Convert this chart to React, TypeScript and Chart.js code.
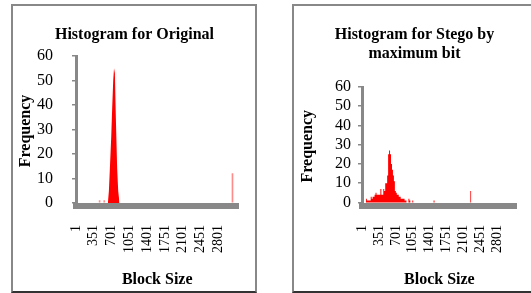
import React, { useEffect, useRef } from 'react';
import { Chart, registerables } from 'chart.js';

Chart.register(...registerables);

// ---- data ----
const xTickValues = [1, 351, 701, 1051, 1401, 1751, 2101, 2451, 2801];
const yTickValues = [0, 10, 20, 30, 40, 50, 60];

// Histogram for Original: dense peak + isolated thin spikes
const originalPeakX = [628, 648, 667, 694, 713, 733, 749, 766, 779, 792, 811, 831, 857];
const originalPeakY = [0, 5, 14, 27, 39, 50, 55, 53, 40, 29, 14, 5, 0];
const originalSpikeX = [465, 556, 3082];
const originalSpikeY = [1, 1, 12];

// Histogram for Stego by maximum bit: bin start -> frequency
const stegoBinX = [80, 100, 180, 200, 220, 260, 280, 300, 380, 400, 440, 460, 480, 520, 540, 560, 580, 600, 620, 640, 660, 680, 700, 720, 760, 800, 880, 920, 960, 980, 1000, 1040, 1060, 1480, 1500, 2240, 2260];
const stegoBinY = [2, 1, 3, 2, 3, 4, 5, 4, 7, 4, 7, 6, 10, 14, 25, 27, 25, 20, 17, 14, 11, 6, 5, 4, 3, 2, 1, 0, 2, 1, 0, 1, 0, 1, 0, 6, 0];

const FONT = "'Liberation Serif', 'Times New Roman', serif";
const GRAY = '#888888';

type Params = {
  title: string | string[];
  datasets: any[];
  yAxisWidth: number;
  rightPad: number;
  xHeight: number;
  yMin: number;
  yTickPad: number;
  yTitlePad: number;
  xTickPad: number;
  titlePadBottom: number;
};

function buildConfig(p: Params): any {
  return {
    type: 'line',
    data: { datasets: p.datasets },
    options: {
      responsive: false,
      animation: false,
      layout: { padding: 0 },
      plugins: {
        legend: { display: false },
        tooltip: { enabled: false },
        title: {
          display: true,
          text: p.title,
          color: '#000',
          font: { family: FONT, size: 16, weight: 'bold', lineHeight: 1.15 },
          padding: { top: 19.8, bottom: p.titlePadBottom },
        },
      },
      scales: {
        x: {
          type: 'linear',
          min: 0,
          max: 3200,
          offset: false,
          grid: { display: true, drawOnChartArea: false, drawTicks: false },
          border: { display: true, width: 6, color: GRAY },
          afterBuildTicks: (s: any) => {
            s.ticks = xTickValues.map((v) => ({ value: v }));
          },
          afterFit: (s: any) => {
            s.height = p.xHeight;
          },
          ticks: {
            autoSkip: false,
            maxRotation: 90,
            minRotation: 90,
            padding: p.xTickPad,
            color: '#000',
            font: { family: FONT, size: 14 },
            callback: (v: any) => String(v),
          },
          title: {
            display: true,
            text: 'Block Size',
            color: '#000',
            font: { family: FONT, size: 16, weight: 'bold' },
            padding: { top: 0, bottom: 1.4 },
          },
        },
        y: {
          type: 'linear',
          position: 'left',
          min: p.yMin,
          max: 60,
          grid: { display: true, drawOnChartArea: false, drawTicks: true, tickLength: 4, color: GRAY, lineWidth: 1.5 },
          border: { display: true, width: 3, color: GRAY },
          afterBuildTicks: (s: any) => {
            s.ticks = yTickValues.map((v) => ({ value: v }));
          },
          afterFit: (s: any) => {
            s.width = p.yAxisWidth;
          },
          ticks: {
            autoSkip: false,
            padding: p.yTickPad,
            color: '#000',
            font: { family: FONT, size: 16 },
            callback: (v: any) => String(v),
          },
          title: {
            display: true,
            text: 'Frequency',
            color: '#000',
            font: { family: FONT, size: 16, weight: 'bold' },
            padding: { top: p.yTitlePad, bottom: 0 },
          },
        },
        yRight: {
          type: 'linear',
          position: 'right',
          display: true,
          grid: { display: false },
          border: { display: false },
          ticks: { display: false },
          afterFit: (s: any) => {
            s.width = p.rightPad;
          },
        },
      },
    },
  };
}

const originalConfig = () =>
  buildConfig({
    title: 'Histogram for Original',
    datasets: [
      {
        type: 'line',
        data: originalPeakX.map((x, i) => ({ x, y: originalPeakY[i] })),
        backgroundColor: '#ff0000',
        borderColor: 'rgba(0,0,0,0)',
        borderWidth: 0,
        pointRadius: 0,
        tension: 0,
        fill: 'origin',
        yAxisID: 'y',
      },
      {
        type: 'bar',
        data: originalSpikeX.map((x, i) => ({ x, y: originalSpikeY[i] })),
        backgroundColor: 'rgba(255,0,0,0.45)',
        barThickness: 1,
        grouped: false,
        yAxisID: 'y',
      },
    ],
    yAxisWidth: 63,
    rightPad: 16,
    xHeight: 85,
    yMin: -1.22,
    yTickPad: 19,
    yTitlePad: 3.4,
    xTickPad: 19,
    titlePadBottom: 11.8,
  });

const stegoConfig = () =>
  buildConfig({
    title: ['Histogram for Stego by', 'maximum bit'],
    datasets: [
      {
        type: 'line',
        data: stegoBinX.map((x, i) => ({ x, y: stegoBinY[i] })),
        backgroundColor: '#ff0000',
        borderColor: 'rgba(0,0,0,0)',
        borderWidth: 0,
        pointRadius: 0,
        stepped: 'before',
        fill: 'origin',
        yAxisID: 'y',
      },
    ],
    yAxisWidth: 68,
    rightPad: 10,
    xHeight: 85.5,
    yMin: -1.56,
    yTickPad: 7,
    yTitlePad: 4.4,
    xTickPad: 19.5,
    titlePadBottom: 24.4,
  });

function ChartCanvas({ make, left, top, width, height }: { make: () => any; left: number; top: number; width: number; height: number }) {
  const ref = useRef<HTMLCanvasElement>(null);
  useEffect(() => {
    const chart = new Chart(ref.current as HTMLCanvasElement, make());
    return () => chart.destroy();
  }, []);
  return (
    <canvas
      ref={ref}
      width={width}
      height={height}
      style={{ position: 'absolute', left, top, width, height }}
    />
  );
}

export default function App() {
  const boxStyle = (left: number): React.CSSProperties => ({
    position: 'absolute',
    left,
    top: 4,
    width: 242,
    height: 285,
    borderTop: `2px solid ${GRAY}`,
    borderLeft: `2px solid ${GRAY}`,
    borderRight: `2px solid ${GRAY}`,
    borderBottom: '2px solid #333',
  });
  return (
    <div
      style={{
        position: 'absolute',
        left: 0,
        top: 0,
        width: 531,
        height: 293,
        overflow: 'hidden',
        background: '#fff',
      }}
    >
      <div style={boxStyle(11)} />
      <div style={boxStyle(292)} />
      <ChartCanvas make={originalConfig} left={13} top={6} width={243} height={285} />
      <ChartCanvas make={stegoConfig} left={294} top={6} width={241} height={285} />
    </div>
  );
}
